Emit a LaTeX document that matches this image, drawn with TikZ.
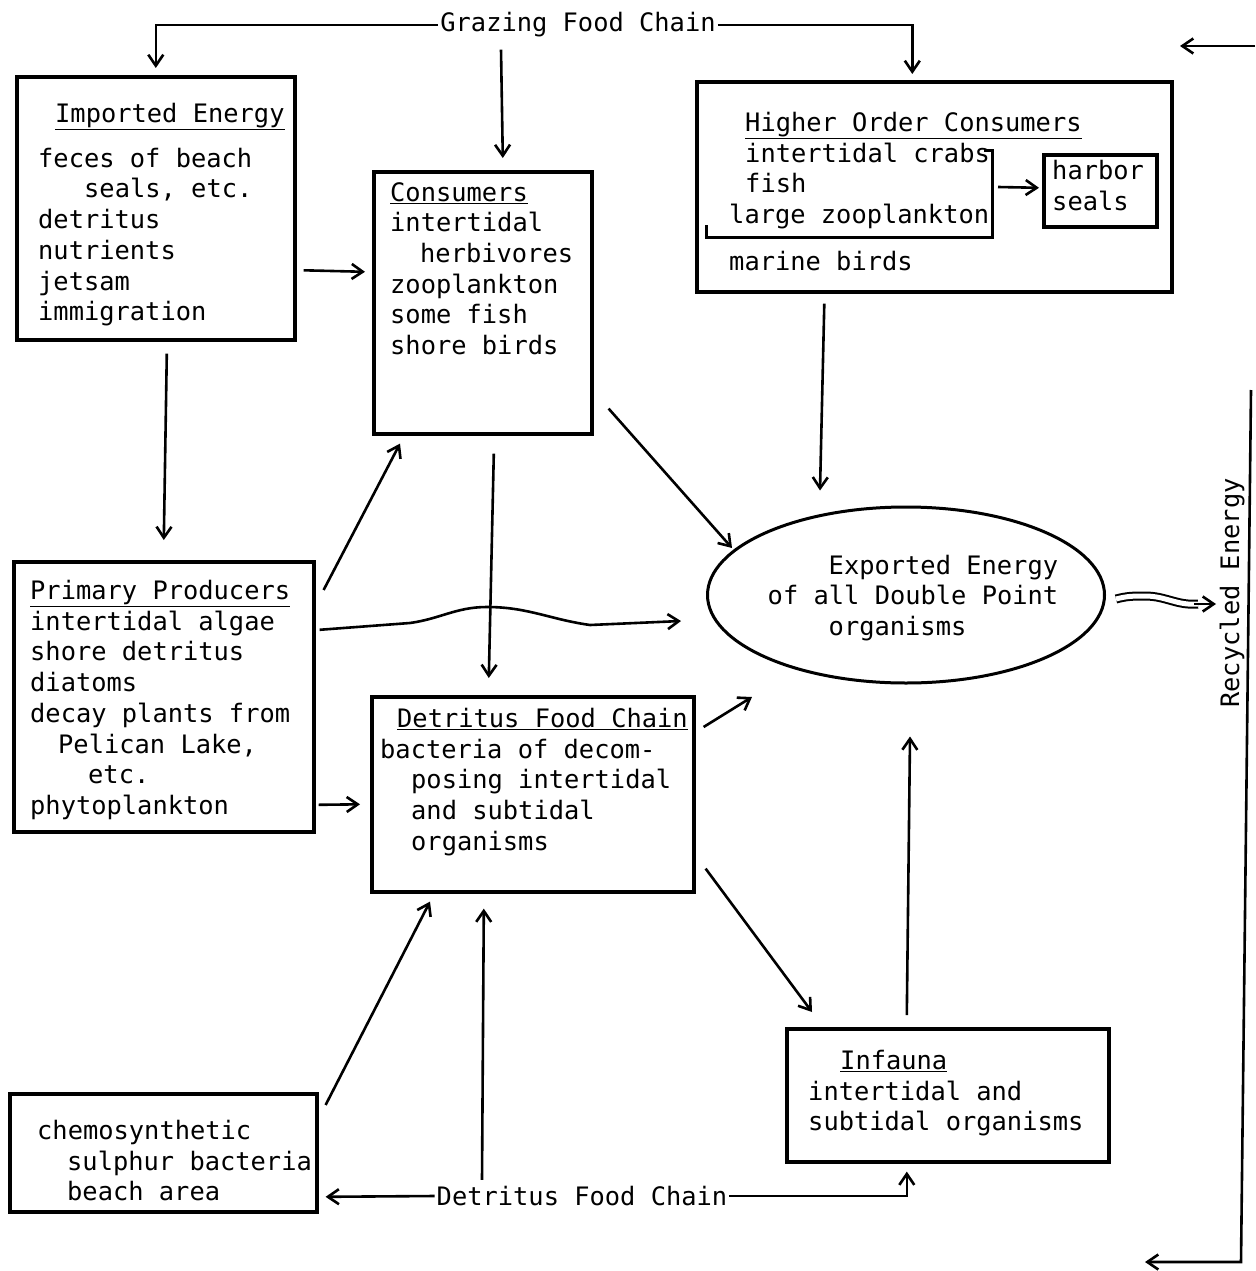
\documentclass[tikz,border=0pt]{standalone}
\usepackage{fontspec}
\newfontfamily\typew{DejaVu Sans Mono}
\usetikzlibrary{arrows.meta,shapes.geometric}
\tikzset{
  box/.style={draw,line width=3.6pt,anchor=north west,inner sep=0pt},
  txt/.style={font=\typew\fontsize{25.4}{30.7}\selectfont,align=left,anchor=north west,inner sep=0pt},
  lab/.style={font=\typew\fontsize{25.4}{30.7}\selectfont,inner sep=2pt},
  arr/.style={line width=2.6pt,-{Straight Barb[length=11pt,width=15pt]}},
}
\begin{document}
\begin{tikzpicture}[x=1pt,y=-1pt]
\useasboundingbox (0,0) rectangle (1255,1271);
% boxes
\node[box,minimum width=278pt,minimum height=263pt] (imp) at (15,75) {};
\node[box,minimum width=218pt,minimum height=262pt] (cons) at (372,170) {};
\node[box,minimum width=475pt,minimum height=210pt] (hoc) at (695,80) {};
\node[box,minimum width=113pt,minimum height=72pt] (seals) at (1042,153) {};
\node[box,minimum width=300pt,minimum height=270pt] (prim) at (12,560) {};
\node[box,minimum width=322pt,minimum height=195pt] (det) at (370,695) {};
\node[box,minimum width=322pt,minimum height=133pt] (inf) at (785,1027) {};
\node[box,minimum width=307pt,minimum height=118pt] (chemo) at (8,1092) {};
\node[draw,ellipse,line width=3pt,minimum width=397pt,minimum height=176pt,inner sep=0pt] (ell) at (906,595) {};
% texts
\node[txt] (impTxt) at (38,103) {\hspace*{17pt}\underline{Imported Energy}\\[14pt]
  feces of beach\\ \hspace*{46pt}seals, etc.\\ detritus\\ nutrients\\ jetsam\\ immigration};
\node[txt] (consTxt) at (390,182) {\underline{Consumers}\\ intertidal\\ \hspace*{30pt}herbivores\\
  zooplankton\\ some fish\\ shore birds};
\node[txt] (hocTxt) at (729,112) {\hspace*{16pt}\underline{Higher Order Consumers}\\
  \hspace*{16pt}intertidal crabs\\ \hspace*{16pt}fish\\ large zooplankton\\[16pt] marine birds};
\node[txt] (sealsTxt) at (1052,160) {harbor\\ seals};
\node[txt] (primTxt) at (30,580) {\underline{Primary Producers}\\ intertidal algae\\ shore detritus\\
  diatoms\\ decay plants from\\ \hspace*{28pt}Pelican Lake,\\ \hspace*{58pt}etc.\\ phytoplankton};
\node[txt] (detTxt) at (380,708) {\hspace*{17pt}\underline{Detritus Food Chain}\\ bacteria of decom-\\
  \hspace*{31pt}posing intertidal\\ \hspace*{31pt}and subtidal\\ \hspace*{31pt}organisms};
\node[txt,anchor=center] (ellTxt) at (913,598) {\hspace*{61pt}Exported Energy\\ of all Double Point\\
  \hspace*{61pt}organisms};
\node[txt] (infTxt) at (808,1050) {\hspace*{32pt}\underline{Infauna}\\ intertidal and\\ subtidal organisms};
\node[txt] (chemoTxt) at (37,1120) {chemosynthetic\\ \hspace*{30pt}sulphur bacteria\\ \hspace*{30pt}beach area};
\node[lab] (graze) at (578,25) {Grazing Food Chain};
\node[lab] (detch) at (582,1196) {Detritus Food Chain};
\node[lab,rotate=90] (recyc) at (1232,593) {Recycled Energy};
% bracket round the small consumers
\draw[line width=3pt] (706,225) -- (706,237) -- (992,237) -- (992,150) -- (984,150);
\coordinate (brk) at (992,187);
\coordinate (rtop) at (1251,390);
\coordinate (rbot) at (1241,1262);
\coordinate (rend) at (1145,1262);
\coordinate (rin) at (1255,46);
\coordinate (rout) at (1180,46);
\coordinate (wv) at (1216,604);
% grazing chain
\draw[arr] (graze.west) -| ([yshift=7pt]imp.north);
\draw[arr] (graze.east) -| ([xshift=-22pt,yshift=6pt]hoc.north);
\draw[arr] ([xshift=-77pt,yshift=-10pt]graze.south) -- ([xshift=20pt,yshift=12pt]cons.north);
\draw[arr] ([xshift=7pt,yshift=-62pt]imp.east) -- ([xshift=-7pt,yshift=31pt]cons.west);
\draw[arr] ([xshift=11pt,yshift=-12pt]imp.south) -- ([yshift=20pt]prim.north);
\draw[arr] ([xshift=8pt,yshift=-30pt]prim.north east) -- ([xshift=28pt,yshift=-8pt]cons.south west);
\draw[arr] ([xshift=11pt,yshift=-18pt]cons.south) -- ([xshift=-44pt,yshift=17pt]det.north);
\draw[arr] ([xshift=15pt,yshift=27pt]cons.south east) -- ([xshift=-174pt,yshift=47pt]ell.center);
\draw[arr] ([xshift=-110pt,yshift=-10pt]hoc.south) -- ([xshift=-86pt,yshift=15pt]ell.north);
\draw[arr] ([xshift=6pt]brk) -- ([xshift=-3pt,yshift=3pt]seals.west);
\draw[arr] ([xshift=4pt,yshift=67pt]prim.east) -- (410,623) to[out=8,in=180] (487,607)
  to[out=0,in=172] (590,625) -- ([xshift=-25pt,yshift=-26pt]ell.west);
% detritus chain
\draw[arr] ([xshift=3pt,yshift=-108pt]prim.east) -- ([xshift=-10pt,yshift=-10pt]det.west);
\draw[arr] ([xshift=8pt,yshift=-32pt]det.north east) -- ([xshift=-154pt,yshift=-102pt]ell.center);
\draw[arr] ([xshift=10pt,yshift=25pt]det.south east) -- ([xshift=27pt,yshift=15pt]inf.north west);
\draw[arr] ([xshift=-41pt,yshift=12pt]inf.north) -- ([xshift=4pt,yshift=-52pt]ell.south);
\draw[arr] ([xshift=7pt,yshift=-13pt]chemo.north east) -- ([xshift=60pt,yshift=-8pt]det.south west);
\draw[arr] ([xshift=-100pt,yshift=4pt]detch.north) -- ([xshift=-49pt,yshift=-15pt]det.south);
\draw[arr] (detch.west) -- ([xshift=7pt,yshift=-44pt]chemo.east);
\draw[arr] (detch.east) -| ([xshift=-41pt,yshift=-8pt]inf.south);
% recycled energy
\draw[line width=2pt,double,double distance=5pt] ([xshift=10pt,yshift=-4pt]ell.east)
  to[out=15,in=180] (1145,596) to[out=0,in=185] (1198,604);
\draw[arr] (1194,604) -- (wv);
\draw[arr] (rtop) -- (rbot) -- (rend);
\draw[arr] (rin) -- (rout);
\end{tikzpicture}
\end{document}
